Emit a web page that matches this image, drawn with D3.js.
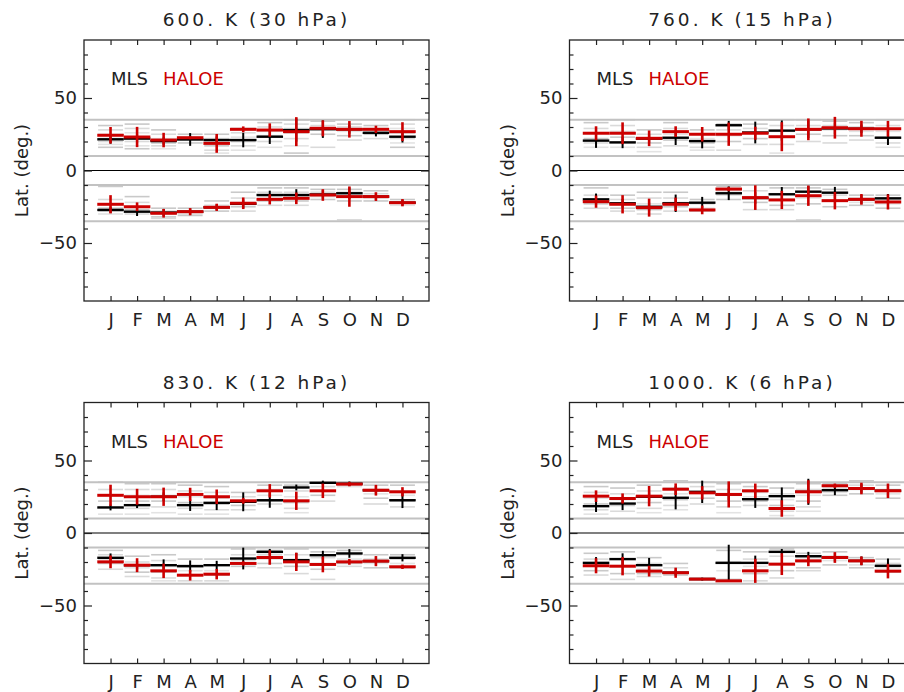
<!DOCTYPE html>
<html>
<head>
<meta charset="utf-8">
<script src="https://cdn.jsdelivr.net/npm/d3@7"></script>
<style>
  body { margin: 0; background: #fff; }
  text { font-family: "DejaVu Sans", sans-serif; fill: #222; }
</style>
</head>
<body>
<svg id="chart"></svg>
<script>
'use strict';

// --- data (lat in deg, [mean, half error bar]) ---
const months = ['J', 'F', 'M', 'A', 'M', 'J', 'J', 'A', 'S', 'O', 'N', 'D'];
const titles = ['600. K (30 hPa)', '760. K (15 hPa)', '830. K (12 hPa)', '1000. K (6 hPa)'];
const yTicks = [-50, 0, 50];
const yMinor = [-80, -70, -60, -40, -30, -20, -10, 10, 20, 30, 40, 60, 70, 80];
const bandLats = [-35, -10, 10, 35];

const mls600NH = [[21.5,3],[22,3],[20.3,2.5],[21.4,4.4],[21,2.5],[21,5],[23.3,5],[27.9,8],[28.5,6],[28.4,3],[26,2.5],[23.3,4]];
const hal600NH = [[24.3,5.7],[23.1,7],[21,5],[22.6,1],[18.7,6.5],[28.4,2],[27.9,4.6],[26.8,10],[29.1,5.5],[28.4,5.7],[28.4,2.5],[26.8,6.5]];
const mls600SH = [[-27.2,2],[-28.4,3],[-29,2.5],[-28.4,2],[-25.4,2],[-23,3],[-16.9,3],[-16.9,4],[-16.5,3],[-15.7,4],[-18,2.5],[-22.2,2]];
const hal600SH = [[-23.3,6.3],[-25,3],[-29.5,3],[-28.4,2.5],[-25.4,2.5],[-22.6,4],[-19.9,3.5],[-19.2,4],[-16.9,4],[-18,7],[-18,3],[-22.2,2.5]];

const mls760NH = [[20.6,5],[19.4,4],[22,3],[22.6,5],[20.3,5],[31.2,3],[26.2,7.5],[27.5,7],[28.4,6],[29,4],[28.8,3],[22.6,5]];
const hal760NH = [[25.7,4.8],[25.7,7.5],[22.2,5.4],[26.8,3.7],[25,5],[25,8],[25.7,4.5],[23.3,10],[28.4,7.5],[29.5,7.5],[28.8,5.5],[28.8,5.4]];
const mls760SH = [[-19.9,4],[-22.6,3],[-25,3],[-22.6,6],[-22.2,4],[-15.7,4.7],[-19,4],[-16.4,5],[-14.6,4],[-15.3,4],[-19.9,3],[-19.2,3]];
const hal760SH = [[-21.5,4.2],[-23.3,6.3],[-25.6,6.2],[-23.3,4.6],[-27.2,3],[-12.8,1.5],[-18.7,8.5],[-20.3,6.3],[-17.4,7],[-20.8,6],[-19.9,3.7],[-21.7,5.2]];

const mls830NH = [[17.6,2],[19.2,2],[25,3],[19.2,4],[20.8,5],[21.5,6.5],[22.6,5.2],[31.4,2],[34.6,1.5],[34,1.5],[29.5,3],[22.6,5.4]];
const hal830NH = [[26,7.3],[25,5.5],[25,6.3],[26.6,4.6],[25,5],[22.2,2],[29.1,4.6],[22.2,6.3],[29.1,5],[33.7,1.5],[29.5,3.7],[28.4,3.2]];
const mls830SH = [[-17.1,3],[-22.2,3],[-22.2,4],[-22.9,4],[-22.2,3],[-17.6,7.5],[-13,2],[-18.7,5],[-15.3,3],[-14.1,3],[-19.4,3],[-17.1,2.5]];
const hal830SH = [[-19.9,4.4],[-22.2,4.8],[-26.1,5],[-29.1,3.7],[-28.4,3.6],[-21,1.5],[-16.9,5],[-19.9,6.3],[-21.7,5.4],[-19.9,2],[-19.4,3.5],[-23.3,1.5]];

const mls1000NH = [[18.5,4],[20.3,4.5],[25,3],[24.3,8],[28.4,7.7],[26.6,4],[23.3,6],[25.4,6],[28.4,9],[29.5,3.4],[30.7,3],[29.1,4]];
const hal1000NH = [[25.4,4],[23.8,3.5],[25.4,7],[30.2,4],[27.7,4.6],[26.6,9],[29.1,5],[16.9,5.7],[28.4,8],[32.6,1.5],[30.7,4],[29.1,5]];
const mls1000SH = [[-20.6,4],[-18,4],[-22.2,5],[-27.4,2],[-31.8,1],[-20.6,12.5],[-20.6,5],[-13,2],[-16,3],[-16.9,3],[-19.2,3],[-22.6,5]];
const hal1000SH = [[-22.6,5.2],[-22.9,6.3],[-26.3,3.7],[-27.4,3.5],[-31.8,0],[-33,0],[-26.1,8.3],[-21.5,7.5],[-19.2,3.7],[-16.9,3.7],[-19.2,3],[-26.3,5]];

// individual-year lines (light grey), one list per month
const gray600NH = [[31,28,25,22,20,18,16],[32,29,26,23,20,17,15],[28,25,22,19,17,15],[25,23,21,19],[25,22,20,17,14,12],[29,26,23,20,17,14],
  [33,30,27,24,20,16],[35,32,29,26,22,17,12],[34,31,28,25,16],[32,30,27,24,21],[31,29,27,25,22],[35,32,29,26,22,19,16]];
const gray600SH = [[-11,-20,-23,-26,-28,-30],[-18,-22,-25,-27,-30],[-26,-28,-30,-32,-33],[-26,-28,-30,-31],[-21,-24,-26,-28],[-15,-19,-22,-25,-28],
  [-12,-15,-18,-21,-24],[-12,-15,-18,-21,-24],[-13,-15,-18,-20],[-13,-15,-18,-21,-34],[-14,-16,-19,-21],[-20,-22,-24]];
const gray760NH = [[33,29,26,22,19,16],[35,31,27,23,19,16],[28,25,22,19,16,13],[33,29,25,21,17],[28,25,22,19,16,14],[32,28,24,20,14],
  [32,29,26,22,18],[35,31,27,23,18,12],[35,31,28,25,20],[34,31,28,24,19],[33,30,27,24,21],[35,31,27,23,19,16]];
const gray760SH = [[-12,-17,-20,-23,-26],[-17,-20,-23,-26,-28],[-15,-19,-23,-27,-30],[-15,-19,-22,-25,-28],[-20,-23,-26,-28],[-11,-14,-17,-20],
  [-10,-14,-18,-22,-27],[-12,-16,-20,-24,-27],[-12,-15,-19,-23,-34],[-13,-17,-21,-25],[-17,-19,-22,-24],[-17,-20,-23,-26]];
const gray830NH = [[35,30,26,22,18,13],[34,30,26,22,17,13],[34,30,26,22,18,14],[33,29,25,21,17,13],[32,28,24,20,16,13],[28,25,22,19,16],
  [33,30,26,22,20],[33,29,25,21,17,14],[35,32,29,26,22],[35,33,32],[33,30,27,24,20],[33,29,26,22,18]];
const gray830SH = [[-12,-15,-18,-21,-25],[-16,-20,-24,-27,-30],[-15,-19,-23,-27,-31,-33],[-18,-22,-26,-29,-33],[-18,-22,-26,-29,-33],[-11,-15,-19,-23],
  [-12,-15,-18,-21,-24],[-11,-15,-19,-23,-28],[-13,-17,-21,-25,-32],[-12,-15,-18,-21,-23],[-15,-18,-21,-24],[-15,-18,-21,-24]];
const gray1000NH = [[32,28,24,20,16,13],[31,27,23,19,15],[33,29,25,21,17,14],[36,31,27,23,19,16],[35,32,28,24,20],[34,30,26,22,18,14],
  [32,28,25,22,19],[31,27,23,19,15,12],[34,30,26,22,18,15],[34,31,28,26],[36,33,30,27],[33,30,27,24]];
const gray1000SH = [[-14,-18,-22,-26,-29],[-13,-18,-23,-28,-32],[-17,-21,-25,-28,-30],[-21,-24,-27,-29],[-31,-32],[-12,-20,-26,-32],
  [-13,-18,-23,-28,-33],[-11,-16,-21,-26,-31],[-14,-17,-20,-24,-26],[-13,-16,-19,-22],[-17,-20,-22,-24],[-18,-21,-24,-27]];

// --- layout ---
const W = 904, H = 692;
const panelW = 345, panelH = 261;
const lefts = [84, 569.5], tops = [40, 402.5];
const grayShades = ['#c9c9c9', '#dadada', '#e3e3e3'];
const red = '#cc0000';

const panels = [
  { title: titles[0], mlsNH: mls600NH, halNH: hal600NH, mlsSH: mls600SH, halSH: hal600SH, grayNH: gray600NH, graySH: gray600SH },
  { title: titles[1], mlsNH: mls760NH, halNH: hal760NH, mlsSH: mls760SH, halSH: hal760SH, grayNH: gray760NH, graySH: gray760SH },
  { title: titles[2], mlsNH: mls830NH, halNH: hal830NH, mlsSH: mls830SH, halSH: hal830SH, grayNH: gray830NH, graySH: gray830SH },
  { title: titles[3], mlsNH: mls1000NH, halNH: hal1000NH, mlsSH: mls1000SH, halSH: hal1000SH, grayNH: gray1000NH, graySH: gray1000SH }
];

const svg = d3.select('#chart').attr('width', W).attr('height', H);

const x = d3.scaleLinear().domain([0, 13]).range([0, panelW]);
const y = d3.scaleLinear().domain([-90, 90]).range([panelH, 0]);

const styleAxis = (sel) => {
  sel.select('.domain').remove();
  sel.attr('font-family', '"DejaVu Sans", sans-serif').attr('font-size', 18);
  sel.selectAll('line').attr('stroke', '#222').attr('stroke-width', 1.2);
  sel.selectAll('text').attr('fill', '#222');
};

const drawCrosses = (g, data, color, hw, vw) => {
  g.append('g').selectAll('line').data(data).enter().append('line')
    .attr('x1', (d, i) => x(i + 0.5)).attr('x2', (d, i) => x(i + 1.5))
    .attr('y1', d => y(d[0])).attr('y2', d => y(d[0]))
    .attr('stroke', color).attr('stroke-width', hw);
  g.append('g').selectAll('line').data(data.filter(d => d[1] > 0)).enter().append('line')
    .attr('x1', d => x(data.indexOf(d) + 1)).attr('x2', d => x(data.indexOf(d) + 1))
    .attr('y1', d => y(d[0] + d[1])).attr('y2', d => y(d[0] - d[1]))
    .attr('stroke', color).attr('stroke-width', vw);
};

const drawPanel = (p, k) => {
  const left = lefts[k % 2], top = tops[Math.floor(k / 2)];
  const g = svg.append('g').attr('transform', `translate(${left},${top})`);

  // grey lines, one per year
  [p.grayNH, p.graySH].forEach(gr => {
    gr.forEach((vals, i) => {
      g.append('g').selectAll('line').data(vals).enter().append('line')
        .attr('x1', x(i + 0.53)).attr('x2', x(i + 1.47))
        .attr('y1', d => y(d)).attr('y2', d => y(d))
        .attr('stroke', (d, j) => grayShades[j % 3]).attr('stroke-width', 1.6);
    });
  });

  // reference lats
  g.selectAll('.band').data(bandLats).enter().append('line').attr('class', 'band')
    .attr('x1', 0).attr('x2', panelW)
    .attr('y1', d => y(d)).attr('y2', d => y(d))
    .attr('stroke', '#c2c2c2').attr('stroke-width', 2);
  g.append('line').attr('x1', 0).attr('x2', panelW).attr('y1', y(0)).attr('y2', y(0))
    .attr('stroke', '#000').attr('stroke-width', 1.2);

  drawCrosses(g, p.mlsNH, '#000', 2.4, 2);
  drawCrosses(g, p.mlsSH, '#000', 2.4, 2);
  drawCrosses(g, p.halNH, red, 3, 2.6);
  drawCrosses(g, p.halSH, red, 3, 2.6);

  // axes, ticks pointing inwards
  g.append('g').call(d3.axisLeft(y).tickValues(yTicks).tickSize(-8).tickPadding(7)
    .tickFormat(d => d < 0 ? '\u2212' + Math.abs(d) : d)).call(styleAxis);
  g.append('g').call(d3.axisLeft(y).tickValues(yMinor).tickSize(-4).tickFormat('')).call(styleAxis);
  g.append('g').attr('transform', `translate(${panelW},0)`)
    .call(d3.axisRight(y).tickValues(yTicks).tickSize(-8).tickFormat('')).call(styleAxis);
  g.append('g').attr('transform', `translate(${panelW},0)`)
    .call(d3.axisRight(y).tickValues(yMinor).tickSize(-4).tickFormat('')).call(styleAxis);
  g.append('g').attr('transform', `translate(0,${panelH})`)
    .call(d3.axisBottom(x).tickValues(d3.range(1, 13)).tickSize(-5).tickPadding(12)
      .tickFormat(d => months[d - 1])).call(styleAxis);
  g.append('g').call(d3.axisTop(x).tickValues(d3.range(1, 13)).tickSize(-5).tickFormat('')).call(styleAxis);

  g.append('rect').attr('width', panelW).attr('height', panelH)
    .attr('fill', 'none').attr('stroke', '#222').attr('stroke-width', 1.3);

  g.append('text').attr('x', panelW / 2).attr('y', -14).attr('text-anchor', 'middle')
    .attr('font-size', 18.5).attr('letter-spacing', 3).text(p.title);

  g.append('text').attr('transform', `translate(-56,${y(0)}) rotate(-90)`)
    .attr('text-anchor', 'middle').attr('font-size', 18).text('Lat. (deg.)');

  g.append('text').attr('x', 27).attr('y', 45).attr('font-size', 18).text('MLS');
  g.append('text').attr('x', 79).attr('y', 45).attr('font-size', 18).style('fill', red).text('HALOE');
};

panels.forEach(drawPanel);
</script>
</body>
</html>
